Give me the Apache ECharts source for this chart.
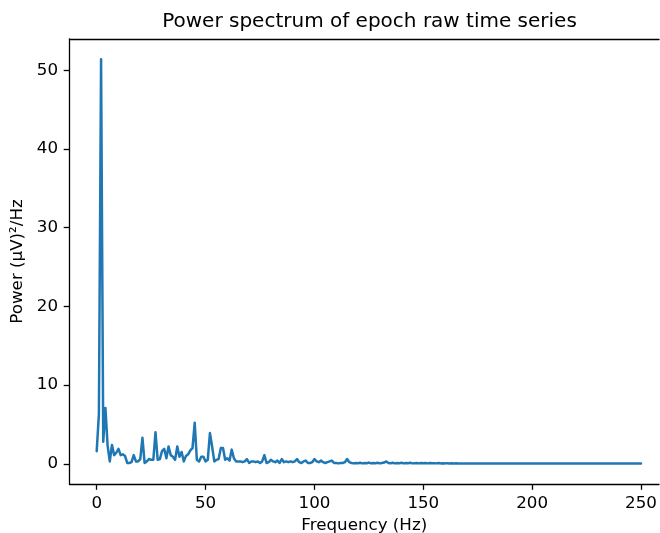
<!DOCTYPE html>
<html>
<head>
<meta charset="utf-8">
<script src="https://cdn.jsdelivr.net/npm/echarts@6/dist/echarts.min.js"></script>
<style>html,body{margin:0;padding:0;background:#fff;}#c{width:660px;height:533px;}</style>
</head>
<body>
<div id="c"></div>
<script>
const titleText = 'Power spectrum of epoch raw time series';
const xLabel = 'Frequency (Hz)';
const yLabel = 'Power (μV)²/Hz';
const xTicks = [0, 50, 100, 150, 200, 250];
const yTicks = [0, 10, 20, 30, 40, 50];
// frequency bins (Hz), 1 Hz resolution
const freqs = Array.from({length: 251}, (_, i) => i);
// power values, one per 1 Hz bin
const power = [
  1.6, 6.3, 51.4, 2.8, 7.1, 2.3, 0.3, 2.4, 1.1, 1.4,
  1.9, 1.1, 1.2, 1.0, 0.1, 0.1, 0.2, 1.1, 0.3, 0.3,
  0.6, 3.3, 0.1, 0.3, 0.6, 0.5, 0.5, 4.0, 0.5, 0.6,
  1.6, 1.9, 0.7, 2.2, 1.1, 0.9, 0.5, 2.2, 0.9, 1.5,
  0.3, 1.0, 1.2, 1.7, 2.0, 5.2, 0.5, 0.3, 0.9, 0.9,
  0.3, 0.5, 3.9, 2.2, 0.3, 0.5, 0.6, 2.0, 2.0, 0.5,
  0.7, 0.4, 1.8, 0.7, 0.3, 0.3, 0.3, 0.2, 0.3, 0.6,
  0.1, 0.3, 0.3, 0.2, 0.3, 0.1, 0.3, 1.1, 0.1, 0.2,
  0.5, 0.3, 0.2, 0.4, 0.1, 0.6, 0.2, 0.3, 0.2, 0.3,
  0.2, 0.3, 0.6, 0.2, 0.1, 0.3, 0.4, 0.1, 0.1, 0.2,
  0.6, 0.3, 0.2, 0.4, 0.2, 0.1, 0.2, 0.3, 0.4, 0.1,
  0.1, 0.05, 0.1, 0.1, 0.2, 0.6, 0.2, 0.1, 0.05, 0.1,
  0.08, 0.12, 0.05, 0.1, 0.06, 0.15, 0.05, 0.1, 0.08, 0.12,
  0.05, 0.1, 0.15, 0.3, 0.1, 0.06, 0.12, 0.05, 0.1, 0.08,
  0.12, 0.05, 0.1, 0.07, 0.12, 0.05, 0.08, 0.1, 0.05, 0.1,
  0.06, 0.09, 0.05, 0.1, 0.06, 0.08, 0.05, 0.09, 0.05, 0.07,
  0.05, 0.08, 0.04, 0.07, 0.05, 0.06, 0.04, 0.05, 0.04, 0.05,
  0.03, 0.04, 0.03, 0.04, 0.03, 0.03, 0.03, 0.03, 0.02, 0.03,
  0.02, 0.02, 0.02, 0.02, 0.02, 0.02, 0.02, 0.02, 0.02, 0.02,
  0.02, 0.02, 0.02, 0.02, 0.02, 0.02, 0.02, 0.02, 0.02, 0.02,
  0.02, 0.02, 0.02, 0.02, 0.02, 0.02, 0.02, 0.02, 0.02, 0.02,
  0.02, 0.02, 0.02, 0.02, 0.02, 0.02, 0.02, 0.02, 0.02, 0.02,
  0.02, 0.02, 0.02, 0.02, 0.02, 0.02, 0.02, 0.02, 0.02, 0.02,
  0.02, 0.02, 0.02, 0.02, 0.02, 0.02, 0.02, 0.02, 0.02, 0.02,
  0.02, 0.02, 0.02, 0.02, 0.02, 0.02, 0.02, 0.02, 0.02, 0.02,
  0.02
];

const font = 'DejaVu Sans';
const tickFont = 16.7;
const chart = echarts.init(document.getElementById('c'), null, {renderer: 'canvas'});
const seriesData = freqs.map((f, i) => [f, power[i]]);
const axisLineStyle = {color: '#000', width: 1.3};
chart.setOption({
  animation: false,
  backgroundColor: '#ffffff',
  title: {
    text: titleText,
    left: 369.5,
    top: 12,
    textAlign: 'center',
    padding: 0,
    textStyle: {fontFamily: font, fontSize: 20, fontWeight: 'normal', color: '#000'}
  },
  grid: {
    left: 69.5, top: 39, right: 1, height: 445,
    show: false,
    containLabel: false,
    outerBoundsMode: 'none'
  },
  xAxis: [{
    type: 'value',
    min: -12.5, max: 258.25,
    name: xLabel,
    nameLocation: 'middle',
    nameGap: 33,
    nameTextStyle: {fontFamily: font, fontSize: tickFont, color: '#000'},
    axisLine: {show: true, onZero: false, lineStyle: axisLineStyle},
    axisTick: {show: true, length: 5.8, lineStyle: axisLineStyle, customValues: xTicks},
    axisLabel: {fontFamily: font, fontSize: tickFont, color: '#000', margin: 11, customValues: xTicks},
    splitLine: {show: false}
  }, {
    type: 'value',
    position: 'top',
    min: -12.5, max: 258.25,
    axisLine: {show: true, onZero: false, lineStyle: axisLineStyle},
    axisTick: {show: false},
    axisLabel: {show: false},
    splitLine: {show: false}
  }],
  yAxis: {
    type: 'value',
    min: -2.57, max: 53.97,
    name: yLabel,
    nameLocation: 'middle',
    nameRotate: 90,
    nameGap: 42,
    nameTextStyle: {fontFamily: font, fontSize: tickFont, color: '#000'},
    axisLine: {show: true, onZero: false, lineStyle: axisLineStyle},
    axisTick: {show: true, length: 5.8, lineStyle: axisLineStyle, customValues: yTicks},
    axisLabel: {fontFamily: font, fontSize: tickFont, color: '#000', margin: 11.5, customValues: yTicks},
    splitLine: {show: false}
  },
  series: [{
    type: 'line',
    xAxisIndex: 0,
    data: seriesData,
    showSymbol: false,
    smooth: false,
    lineStyle: {color: '#1f77b4', width: 2.5, join: 'round', cap: 'round'},
    itemStyle: {color: '#1f77b4'}
  }]
});
</script>
</body>
</html>
